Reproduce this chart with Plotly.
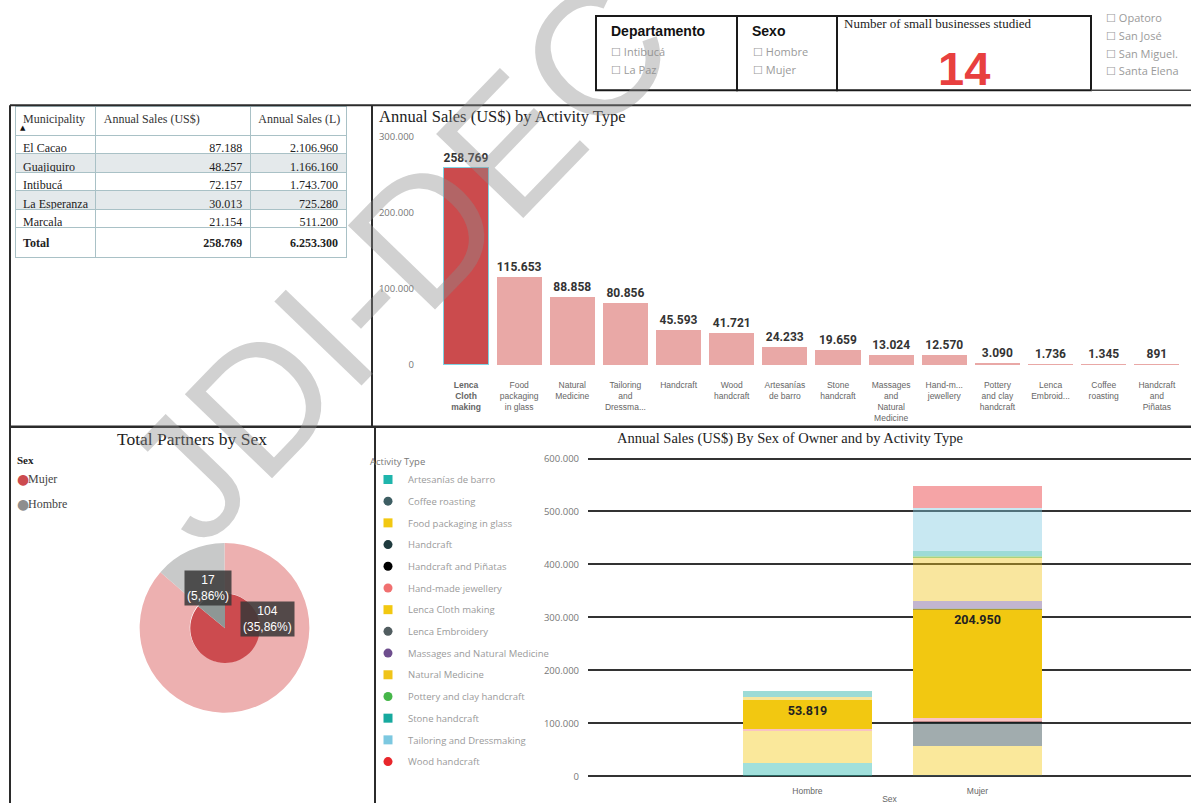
import plotly.graph_objects as go

W, H = 1191, 809


def px(x):
    return x / W


def py(y):
    return 1 - y / H


def fmt(v):
    return f"{v:,}".replace(",", ".")


def nb(s):
    # keep table text on one line
    return s.replace(" ", "\u00a0")


# ---- data ----
municipalities = ["El Cacao", "Guajiquiro", "Intibucá", "La Esperanza", "Marcala"]
sales_usd = [87188, 48257, 72157, 30013, 21154]
sales_lps = [2106960, 1166160, 1743700, 725280, 511200]

activities = [
    "Lenca Cloth making", "Food packaging in glass", "Natural Medicine",
    "Tailoring and Dressmaking", "Handcraft", "Wood handcraft",
    "Artesanías de barro", "Stone handcraft", "Massages and Natural Medicine",
    "Hand-made jewellery", "Pottery and clay handcraft", "Lenca Embroidery",
    "Coffee roasting", "Handcraft and Piñatas",
]
activity_sales = [258769, 115653, 88858, 80856, 45593, 41721, 24233,
                  19659, 13024, 12570, 3090, 1736, 1345, 891]
activity_ticks = [
    "<b>Lenca<br>Cloth<br>making</b>", "Food<br>packaging<br>in glass",
    "Natural<br>Medicine", "Tailoring<br>and<br>Dressma...", "Handcraft",
    "Wood<br>handcraft", "Artesanías<br>de barro", "Stone<br>handcraft",
    "Massages<br>and<br>Natural<br>Medicine", "Hand-m...<br>jewellery",
    "Pottery<br>and clay<br>handcraft", "Lenca<br>Embroid...",
    "Coffee<br>roasting", "Handcraft<br>and<br>Piñatas",
]

sexes = ["Hombre", "Mujer"]
legend_activities = [
    "Artesanías de barro", "Coffee roasting", "Food packaging in glass",
    "Handcraft", "Handcraft and Piñatas", "Hand-made jewellery",
    "Lenca Cloth making", "Lenca Embroidery", "Massages and Natural Medicine",
    "Natural Medicine", "Pottery and clay handcraft", "Stone handcraft",
    "Tailoring and Dressmaking", "Wood handcraft",
]
legend_colors = ["#1FB5AC", "#3E5E63", "#F2C811", "#1F3A3E", "#000000",
                 "#F07070", "#F2C811", "#515D60", "#6E4E8E", "#F0C419",
                 "#45B649", "#16A99E", "#7CC8E0", "#E8262B"]
legend_symbols = ["square", "circle", "square", "circle", "circle", "circle",
                  "square", "circle", "circle", "square", "circle", "square",
                  "square", "circle"]
sales_hombre = [24233, 0, 60400, 0, 0, 5300, 53819, 0, 0, 5500, 0, 10959, 0, 0]
sales_mujer = [0, 1345, 55253, 45593, 891, 7270, 204950, 1736, 13024,
               83358, 3090, 8700, 80856, 41721]

pie_sexes = ["Mujer", "Hombre"]
partners_inner = [104, 17]
partners_outer = [146, 23]

SERIF = "Liberation Serif"
SANS = "Liberation Sans"
UI = "Open Sans"

fig = go.Figure()

# ---- table ----
row_fill = ["white", "#E4E9EB", "white", "#E4E9EB", "white", "white"]
fig.add_trace(go.Table(
    domain=dict(x=[px(15), px(347)], y=[py(290), py(107)]),
    columnwidth=[81, 155, 96],
    header=dict(
        values=["Municipality", nb("Annual Sales (US$)"), nb("Annual Sales (L)")],
        align="left", height=29, fill_color="white", line_color="#A9C1C6",
        font=dict(family=SERIF, size=12, color="#333"),
    ),
    cells=dict(
        values=[
            [nb(m) for m in municipalities] + ["<b>Total</b>"],
            [fmt(v) for v in sales_usd] + ["<b>" + fmt(sum(sales_usd)) + "</b>"],
            [fmt(v) for v in sales_lps] + ["<b>" + fmt(sum(sales_lps)) + "</b>"],
        ],
        align=["left", "right", "right"], height=18.5,
        fill_color=[row_fill] * 3, line_color="#A9C1C6",
        font=dict(family=SERIF, size=12, color="#222"),
    ),
))

# ---- bar chart by activity ----
bar_colors = ["#CB4B4D"] + ["#E9A8A6"] * (len(activities) - 1)
bar_lines = ["#7FD3E3"] + ["rgba(0,0,0,0)"] * (len(activities) - 1)
fig.add_trace(go.Bar(
    x=activities, y=activity_sales, width=0.85,
    marker=dict(color=bar_colors, line=dict(color=bar_lines, width=1.5)),
    texttemplate="%{y:,.0f}", textposition="outside", constraintext="none",
    textfont=dict(family="Roboto", size=12, color="#333", weight="bold"),
    cliponaxis=False, showlegend=False, xaxis="x", yaxis="y",
))

# ---- stacked bars by sex ----
for name, col, h, m in zip(legend_activities, legend_colors, sales_hombre, sales_mujer):
    selected = name == "Lenca Cloth making"
    fig.add_trace(go.Bar(
        x=sexes, y=[h, m], name=name, width=0.759,
        marker=dict(color=col, opacity=1 if selected else 0.42, line=dict(width=0)),
        texttemplate="%{y:,.0f}" if selected else None,
        textposition="inside" if selected else "none",
        insidetextanchor="end", constraintext="none",
        textfont=dict(family="Roboto", size=12.5, color="#222", weight="bold"),
        showlegend=False, xaxis="x2", yaxis="y2",
    ))
for name, col, sym in zip(legend_activities, legend_colors, legend_symbols):
    fig.add_trace(go.Scatter(
        x=[None], y=[None], mode="markers", name=name, legendgroup=name,
        marker=dict(color=col, symbol=sym, size=9),
        xaxis="x2", yaxis="y2",
    ))

# ---- nested pie ----
fig.add_trace(go.Pie(
    labels=pie_sexes, values=partners_outer, hole=0.41, sort=False,
    direction="clockwise", rotation=0, textinfo="none",
    marker=dict(colors=["#EDB0B0", "#C8C9C9"]), showlegend=False,
    domain=dict(x=[px(139), px(310)], y=[py(718), py(547)]),
))
fig.add_trace(go.Pie(
    labels=pie_sexes, values=partners_inner, sort=False,
    direction="clockwise", rotation=0, textinfo="none",
    marker=dict(colors=["#CC4B4F", "#8E9795"]), showlegend=False,
    domain=dict(x=[px(190), px(260)], y=[py(668), py(598)]),
))

total_partners = sum(partners_inner) + sum(partners_outer)
ann = []


def txt(x, y, s, size=11, color="#222", family=SANS, xanchor="left", **kw):
    ann.append(dict(x=px(x), y=py(y), xref="paper", yref="paper", text=s,
                    showarrow=False, xanchor=xanchor, yanchor="middle",
                    font=dict(size=size, color=color, family=family), **kw))


for val, (lx, ly) in zip(partners_inner, [(267, 624), (207.5, 592.5)]):
    pct = f"{val / total_partners * 100:.2f}".replace(".", ",")
    txt(lx, ly, f"{val}<br>({pct}%)", size=12, color="white", xanchor="center",
        bgcolor="rgba(55,55,55,0.85)", borderpad=2)

# sort arrow under the table header
txt(18, 129, "▲", size=7, color="#111", family="DejaVu Sans")

# pie legend
txt(15, 463, "<b>Sex</b>", size=11, family=SERIF)
txt(15, 483, "●", size=14, color="#CC4B4F", family="DejaVu Sans")
txt(26, 483, "Mujer", size=12, color="#444", family=SERIF)
txt(15, 508, "●", size=14, color="#8E8E8E", family="DejaVu Sans")
txt(26, 508, "Hombre", size=12, color="#444", family=SERIF)

# titles
txt(377, 117, "Annual Sales (US$) by Activity Type", size=16.5, family=SERIF)
txt(192, 442, "Total Partners by Sex", size=17.5, family=SERIF, xanchor="center")
txt(790, 441.5, "Annual Sales (US$) By Sex of Owner and by Activity Type",
    size=14.5, family=SERIF, xanchor="center")

# filter boxes
txt(609, 31, "<b>Departamento</b>", size=14, color="#111")
txt(609, 52, "☐ Intibucá", size=11, color="#9A9A9A", family=UI)
txt(609, 70, "☐ La Paz", size=11, color="#9A9A9A", family=UI)
txt(750, 31, "<b>Sexo</b>", size=14, color="#111")
txt(751, 52, "☐ Hombre", size=11, color="#9A9A9A", family=UI)
txt(751, 70, "☐ Mujer", size=11, color="#9A9A9A", family=UI)
txt(842, 24, "Number of small businesses studied", size=13, family=SERIF)
txt(964, 69, "<b>14</b>", size=47, color="#E8403F", xanchor="center")
for i, s in enumerate(["Opatoro", "San José", "San Miguel.", "Santa Elena"]):
    txt(1104, 18 + i * 17.7, "☐ " + s, size=11, color="#9A9A9A", family=UI)

# watermark (runs off the top edge as in the source image)
ann.append(dict(x=px(398), y=py(262), xref="paper", yref="paper",
                xanchor="center", yanchor="middle",
                text="JDI-DEC", showarrow=False, textangle=-46,
                font=dict(size=176, color="rgba(140,140,140,0.4)", family=SANS)))

# panel borders
shapes = []


def line(x0, y0, x1, y1, color="#2B2B2B", width=2):
    shapes.append(dict(type="line", xref="paper", yref="paper",
                       x0=px(x0), y0=py(y0), x1=px(x1), y1=py(y1),
                       line=dict(color=color, width=width)))


line(10, 106, 1191, 106)
line(10, 106, 10, 809)
line(372, 106, 372, 430)
line(10, 430, 1191, 430, width=2.5)
line(375, 430, 375, 809)
for x0, x1 in [(596, 737), (737, 837), (837, 1091)]:
    shapes.append(dict(type="rect", xref="paper", yref="paper",
                       x0=px(x0), x1=px(x1), y0=py(91), y1=py(16),
                       line=dict(color="#1A1A1A", width=2)))
line(1091, 91, 1191, 91, color="#444", width=1.5)

axis_font = dict(family=UI, size=9.5, color="#777")
fig.update_layout(
    width=W, height=H, margin=dict(l=0, r=0, t=0, b=0),
    paper_bgcolor="white", plot_bgcolor="white",
    separators=",.", barmode="stack",
    xaxis=dict(domain=[px(415), px(1185)], range=[-0.96, 13.53], anchor="y",
               tickvals=activities, ticktext=activity_ticks,
               tickfont=dict(family=SANS, size=8.5, color="#666"),
               ticks="outside", ticklen=12, tickcolor="rgba(0,0,0,0)",
               showline=False, showgrid=False, zeroline=False),
    yaxis=dict(domain=[py(367.7), py(125)], range=[0, 316000], anchor="x",
               tickvals=[0, 100000, 200000, 300000], tickformat=",d",
               tickfont=axis_font, showgrid=False, zeroline=False, showline=False),
    xaxis2=dict(domain=[px(588), 1], range=[-1.291, 2.256], anchor="y2",
                tickfont=dict(family=SANS, size=8.5, color="#666"),
                ticks="outside", ticklen=7, tickcolor="rgba(0,0,0,0)",
                title=dict(text="Sex", font=dict(family=SANS, size=8.5, color="#666"),
                           standoff=0),
                showgrid=False, zeroline=False, showline=False),
    yaxis2=dict(domain=[py(782), py(455)], range=[0, 613000], anchor="x2",
                dtick=100000, tickformat=",d", tickfont=axis_font,
                showgrid=True, gridcolor="#333", gridwidth=1.5,
                zeroline=True, zerolinecolor="#333", zerolinewidth=1.5,
                ticklabelstandoff=8),
    legend=dict(x=px(368), y=py(456), xanchor="left", yanchor="top",
                title=dict(text="Activity Type", font=dict(family=UI, size=9.5, color="#777")),
                font=dict(family=UI, size=9.5, color="#9A9A9A"),
                tracegroupgap=2.7, traceorder="grouped", bgcolor="rgba(0,0,0,0)",
                itemwidth=30),
    annotations=ann, shapes=shapes,
)

fig.write_html("out.html", config={"displayModeBar": False},
               post_script="document.body.style.margin = '0';")
